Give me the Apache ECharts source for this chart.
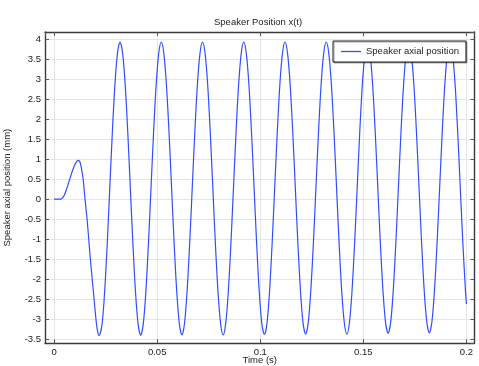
<!DOCTYPE html>
<html>
<head>
<meta charset="utf-8">
<script src="https://cdn.jsdelivr.net/npm/echarts@6/dist/echarts.min.js"></script>
<style>
html,body{margin:0;padding:0;background:#fff;}
#chart{width:479px;height:366px;}
</style>
</head>
<body>
<div id="chart"></div>
<script>
// Time (s) and speaker axial position (mm)
var time = [
  0, 0.002, 0.0034, 0.004, 0.005, 0.006, 0.007, 0.008, 0.009, 0.010, 0.011, 0.0118,
  0.0125, 0.013, 0.0135, 0.0141, 0.015, 0.016, 0.0168, 0.0176, 0.0185, 0.0194, 0.0203, 0.021, 0.0218,
  0.02325, 0.0245, 0.02575, 0.027, 0.02825, 0.0295, 0.03075, 0.032, 0.03325, 0.0345, 0.03575, 0.037, 0.03825, 0.0395, 0.04075,
  0.042, 0.04325, 0.0445, 0.04575, 0.047, 0.04825, 0.0495, 0.05075, 0.052, 0.05325, 0.0545, 0.05575, 0.057, 0.05825, 0.0595, 0.06075,
  0.062, 0.06325, 0.0645, 0.06575, 0.067, 0.06825, 0.0695, 0.07075, 0.072, 0.07325, 0.0745, 0.07575, 0.077, 0.07825, 0.0795, 0.08075,
  0.082, 0.08325, 0.0845, 0.08575, 0.087, 0.08825, 0.0895, 0.09075, 0.092, 0.09325, 0.0945, 0.09575, 0.097, 0.09825, 0.0995, 0.10075,
  0.102, 0.10325, 0.1045, 0.10575, 0.107, 0.10825, 0.1095, 0.11075, 0.112, 0.11325, 0.1145, 0.11575, 0.117, 0.11825, 0.1195, 0.12075,
  0.122, 0.12325, 0.1245, 0.12575, 0.127, 0.12825, 0.1295, 0.13075, 0.132, 0.13325, 0.1345, 0.13575, 0.137, 0.13825, 0.1395, 0.14075,
  0.142, 0.14325, 0.1445, 0.14575, 0.147, 0.14825, 0.1495, 0.15075, 0.152, 0.15325, 0.1545, 0.15575, 0.157, 0.15825, 0.1595, 0.16075,
  0.162, 0.16325, 0.1645, 0.16575, 0.167, 0.16825, 0.1695, 0.17075, 0.172, 0.17325, 0.1745, 0.17575, 0.177, 0.17825, 0.1795, 0.18075,
  0.182, 0.18325, 0.1845, 0.18575, 0.187, 0.18825, 0.1895, 0.19075, 0.192, 0.19325, 0.1945, 0.19575, 0.197, 0.19825, 0.1995, 0.2
];
var position = [
  0, 0, 0, 0.02, 0.1, 0.24, 0.4, 0.56, 0.72, 0.85, 0.94, 0.97,
  0.93, 0.84, 0.7, 0.5, 0.0, -0.5, -1.0, -1.5, -2.0, -2.5, -3.0, -3.28, -3.42,
  -3.14, -2.34, -1.15, 0.26, 1.66, 2.85, 3.65, 3.93, 3.65, 2.85, 1.66, 0.26, -1.14, -2.33, -3.13,
  -3.41, -3.13, -2.33, -1.14, 0.26, 1.66, 2.85, 3.64, 3.93, 3.64, 2.85, 1.67, 0.27, -1.13, -2.32, -3.12,
  -3.40, -3.12, -2.32, -1.13, 0.27, 1.67, 2.85, 3.64, 3.93, 3.64, 2.86, 1.67, 0.27, -1.13, -2.32, -3.11,
  -3.40, -3.11, -2.32, -1.13, 0.27, 1.67, 2.86, 3.64, 3.93, 3.64, 2.86, 1.67, 0.28, -1.12, -2.31, -3.11,
  -3.39, -3.11, -2.31, -1.12, 0.28, 1.67, 2.86, 3.64, 3.93, 3.64, 2.86, 1.68, 0.28, -1.12, -2.30, -3.10,
  -3.38, -3.10, -2.30, -1.12, 0.28, 1.68, 2.86, 3.64, 3.93, 3.64, 2.86, 1.68, 0.28, -1.11, -2.30, -3.09,
  -3.38, -3.09, -2.30, -1.11, 0.28, 1.68, 2.86, 3.64, 3.93, 3.64, 2.86, 1.68, 0.29, -1.11, -2.29, -3.08,
  -3.36, -3.08, -2.29, -1.10, 0.29, 1.68, 2.86, 3.64, 3.93, 3.64, 2.86, 1.68, 0.29, -1.10, -2.28, -3.07,
  -3.35, -3.07, -2.28, -1.10, 0.29, 1.68, 2.86, 3.64, 3.93, 3.64, 2.86, 1.68, 0.29, -1.10, -2.28, -2.63
];
var seriesName = 'Speaker axial position';
var titleText = 'Speaker Position x(t)';
var xName = 'Time (s)';
var yName = 'Speaker axial position (mm)';

var pts = time.map(function (t, i) { return [t, position[i]]; });

var FONT = "'Liberation Sans', Arial, sans-serif";
var FS = 9.5;
var LINE = '#2f4fff';
var frame = { show: true, onZero: false, lineStyle: { color: '#3a3a3a', width: 1.4 } };
var tickIn = { show: true, inside: true, length: 4, lineStyle: { color: '#555', width: 1 } };

var chart = echarts.init(document.getElementById('chart'), null, { renderer: 'canvas' });
chart.setOption({
  animation: false,
  backgroundColor: '#ffffff',
  title: {
    text: titleText,
    left: 214, top: 17, padding: 0,
    textStyle: { fontFamily: FONT, fontSize: FS, fontWeight: 'normal', color: '#222' }
  },
  grid: { left: 45, right: 4.5, top: 32, bottom: 22.7, containLabel: false, outerBoundsMode: 'none' },
  legend: {
    left: 333, top: 41,
    padding: [5, 7, 5, 8],
    itemWidth: 20, itemHeight: 1.3,
    backgroundColor: '#ffffff',
    borderColor: '#222', borderWidth: 1,
    shadowColor: 'rgba(0,0,0,0.35)', shadowOffsetX: 1, shadowOffsetY: 1, shadowBlur: 0,
    textStyle: { fontFamily: FONT, fontSize: FS, color: '#222', lineHeight: 11 },
    data: [{ name: seriesName, icon: 'rect', itemStyle: { color: LINE } }]
  },
  xAxis: [{
    type: 'value', position: 'bottom',
    min: -0.0044, max: 0.2039, splitNumber: 4,
    axisLine: frame, axisTick: tickIn,
    axisLabel: { fontFamily: FONT, fontSize: FS, color: '#222', margin: 4, showMinLabel: false, showMaxLabel: false },
    splitLine: { show: true, lineStyle: { color: '#e6e6e6', width: 1 } },
    name: xName, nameLocation: 'middle', nameGap: 12, nameMoveOverlap: false,
    nameTextStyle: { fontFamily: FONT, fontSize: FS, color: '#222' }
  }, {
    type: 'value', position: 'top',
    min: -0.0044, max: 0.2039, splitNumber: 4,
    axisLine: frame, axisTick: tickIn,
    axisLabel: { show: false }, splitLine: { show: false }
  }],
  yAxis: [{
    type: 'value', position: 'left',
    min: -3.61, max: 4.18, splitNumber: 15,
    axisLine: frame, axisTick: tickIn,
    axisLabel: { fontFamily: FONT, fontSize: FS, color: '#222', margin: 4, showMinLabel: false, showMaxLabel: false },
    splitLine: { show: true, lineStyle: { color: '#e6e6e6', width: 1 } },
    name: yName, nameLocation: 'middle', nameGap: 33, nameMoveOverlap: false,
    nameTextStyle: { fontFamily: FONT, fontSize: FS, color: '#222' }
  }, {
    type: 'value', position: 'right',
    min: -3.61, max: 4.18, splitNumber: 15,
    axisLine: frame, axisTick: tickIn,
    axisLabel: { show: false }, splitLine: { show: false }
  }],
  series: [{
    name: seriesName,
    type: 'line',
    xAxisIndex: 0, yAxisIndex: 0,
    data: pts,
    showSymbol: false, symbol: 'none',
    smooth: 0.3,
    lineStyle: { color: LINE, width: 1.2 },
    itemStyle: { color: LINE }
  }]
});
</script>
</body>
</html>
